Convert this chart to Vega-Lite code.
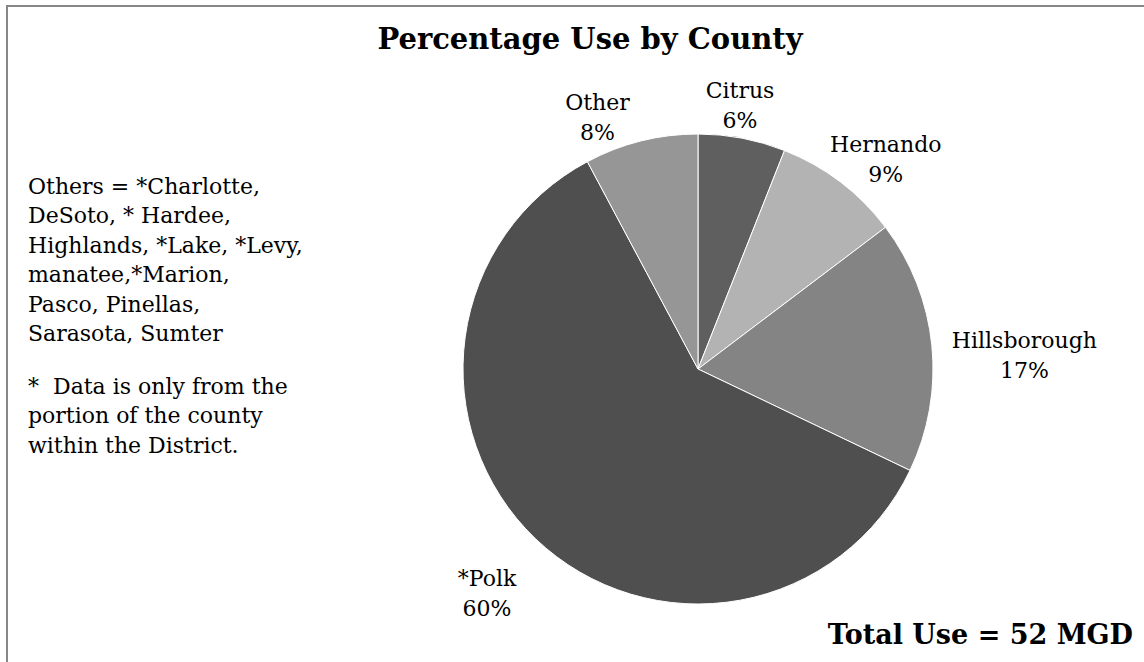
{
  "$schema": "https://vega.github.io/schema/vega-lite/v6.json",
  "width": 470,
  "height": 470,
  "autosize": {"type": "none"},
  "padding": {"left": 463, "top": 134, "right": 211, "bottom": 58},
  "background": "white",
  "config": {"view": {"stroke": null}, "text": {"font": "DejaVu Serif", "color": "#000000"}},
  "data": {"values": [
    {"county": "Citrus", "value": 6, "order": 1, "label": "Citrus\n6%"},
    {"county": "Hernando", "value": 8.7, "order": 2, "label": "Hernando\n9%"},
    {"county": "Hillsborough", "value": 17.4, "order": 3, "label": "Hillsborough\n17%"},
    {"county": "*Polk", "value": 60.1, "order": 4, "label": "*Polk\n60%"},
    {"county": "Other", "value": 7.8, "order": 5, "label": "Other\n8%"}
  ]},
  "layer": [
    {
      "data": {"values": [{}]},
      "mark": {"type": "rect", "fill": null, "stroke": "#878787", "strokeWidth": 2},
      "encoding": {"x": {"value": -456}, "y": {"value": -128}, "x2": {"value": 760}, "y2": {"value": 560}}
    },
    {
      "mark": {"type": "arc", "stroke": "white", "strokeWidth": 1},
      "encoding": {
        "theta": {"field": "value", "type": "quantitative", "stack": true},
        "order": {"field": "order", "type": "quantitative"},
        "color": {"field": "county", "type": "nominal", "legend": null,
          "scale": {"domain": ["Citrus", "Hernando", "Hillsborough", "*Polk", "Other"], "range": ["#5f5f5f", "#b3b3b3", "#848484", "#4f4f4f", "#969696"]}}
      }
    },
    {
      "mark": {"type": "text", "radius": 267, "dx": -8, "dy": -16, "align": "center", "baseline": "middle", "fontSize": 22, "lineHeight": 30, "lineBreak": "\n"},
      "encoding": {
        "theta": {"field": "value", "type": "quantitative", "stack": true},
        "order": {"field": "order", "type": "quantitative"},
        "text": {"condition": {"test": "datum.county === 'Citrus'", "field": "label"}, "value": ""}
      }
    },
    {
      "mark": {"type": "text", "radius": 282, "dx": 17, "dy": 0, "align": "center", "baseline": "middle", "fontSize": 22, "lineHeight": 30, "lineBreak": "\n"},
      "encoding": {
        "theta": {"field": "value", "type": "quantitative", "stack": true},
        "order": {"field": "order", "type": "quantitative"},
        "text": {"condition": {"test": "datum.county === 'Hernando'", "field": "label"}, "value": ""}
      }
    },
    {
      "mark": {"type": "text", "radius": 327, "dx": 1, "dy": 5, "align": "center", "baseline": "middle", "fontSize": 22, "lineHeight": 30, "lineBreak": "\n"},
      "encoding": {
        "theta": {"field": "value", "type": "quantitative", "stack": true},
        "order": {"field": "order", "type": "quantitative"},
        "text": {"condition": {"test": "datum.county === 'Hillsborough'", "field": "label"}, "value": ""}
      }
    },
    {
      "mark": {"type": "text", "radius": 308, "dx": 2, "dy": -13, "align": "center", "baseline": "middle", "fontSize": 22, "lineHeight": 30, "lineBreak": "\n"},
      "encoding": {
        "theta": {"field": "value", "type": "quantitative", "stack": true},
        "order": {"field": "order", "type": "quantitative"},
        "text": {"condition": {"test": "datum.county === '*Polk'", "field": "label"}, "value": ""}
      }
    },
    {
      "mark": {"type": "text", "radius": 270, "dx": -35, "dy": -4, "align": "center", "baseline": "middle", "fontSize": 22, "lineHeight": 30, "lineBreak": "\n"},
      "encoding": {
        "theta": {"field": "value", "type": "quantitative", "stack": true},
        "order": {"field": "order", "type": "quantitative"},
        "text": {"condition": {"test": "datum.county === 'Other'", "field": "label"}, "value": ""}
      }
    },
    {
      "data": {"values": [{}]},
      "mark": {"type": "text", "align": "center", "baseline": "alphabetic", "fontSize": 29, "fontWeight": "bold", "text": "Percentage Use by County"},
      "encoding": {"x": {"value": 127}, "y": {"value": -85}}
    },
    {
      "data": {"values": [{}]},
      "mark": {"type": "text", "align": "left", "baseline": "alphabetic", "fontSize": 22, "lineHeight": 29.4,
        "text": ["Others = *Charlotte,", "DeSoto, * Hardee,", "Highlands, *Lake, *Levy,", "manatee,*Marion,", "Pasco, Pinellas,", "Sarasota, Sumter"]},
      "encoding": {"x": {"value": -435}, "y": {"value": 60}}
    },
    {
      "data": {"values": [{}]},
      "mark": {"type": "text", "align": "left", "baseline": "alphabetic", "fontSize": 22, "lineHeight": 29.4,
        "text": ["* \u00a0Data is only from the", "portion of the county", "within the District."]},
      "encoding": {"x": {"value": -435}, "y": {"value": 260}}
    },
    {
      "data": {"values": [{}]},
      "mark": {"type": "text", "align": "right", "baseline": "alphabetic", "fontSize": 27, "fontWeight": "bold", "text": "Total Use = 52 MGD"},
      "encoding": {"x": {"value": 670}, "y": {"value": 510}}
    }
  ]
}
